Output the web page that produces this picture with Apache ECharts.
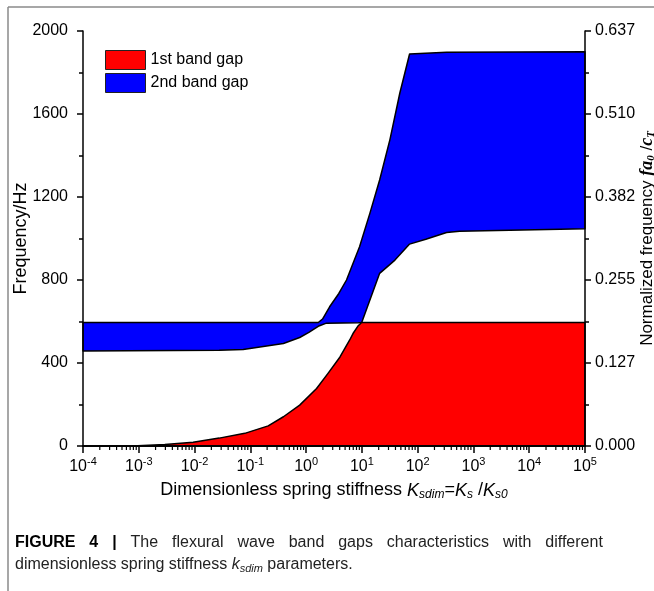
<!DOCTYPE html>
<html><head><meta charset="utf-8">
<script src="https://cdn.jsdelivr.net/npm/echarts@6/dist/echarts.min.js"></script>
<style>html,body{margin:0;padding:0;background:#fff}#c{width:654px;height:591px}</style>
</head><body><div id="c"></div>
<script>
// ---- data ----
const gap1Stiffness = [1e-4, 9.55e-4, 2.93e-3, 9.42e-3, 2.77e-2, 7.96e-2, 0.209, 0.392, 0.767, 1.54, 2.47, 4.05, 6.05, 6.93, 8.49, 9.93, 1e5];
const gap1UpperHz  = [0, 1, 7, 18, 38, 61, 97, 141, 197, 277, 350, 429, 511, 542, 578, 595, 595];

const gap2LowerStiffness = [1e-4, 0.0277, 0.0745, 0.392, 0.767, 1.12, 1.65, 2.31, 8.69, 9.93, 20.8, 39.1, 71.6, 140, 330, 565, 1e5];
const gap2LowerHz        = [458, 461, 465, 494, 523, 548, 577, 592, 594, 595, 832, 896, 973, 996, 1029, 1035, 1047];

const gap2UpperStiffness = [1e-4, 1.65, 1.97, 2.64, 3.86, 5.30, 9.08, 13.9, 20.8, 31.9, 47.8, 71.6, 330, 1e5];
const gap2UpperHz        = [595, 595, 612, 671, 735, 800, 960, 1121, 1282, 1478, 1700, 1889, 1897, 1900];

const freqTickLabels = ['0', '400', '800', '1200', '1600', '2000'];
const normTickLabels = ['0.000', '0.127', '0.255', '0.382', '0.510', '0.637'];
const minorMantissas = [2, 3, 4, 5, 6, 7, 8, 9];
const decadeExponents = [-4, -3, -2, -1, 0, 1, 2, 3, 4];
const seriesNames = ['1st band gap', '2nd band gap'];
const captionLine1Words = ['{b|FIGURE}', '{b|4}', '{b||}', 'The', 'flexural', 'wave', 'band', 'gaps', 'characteristics', 'with', 'different'];

// ---- build ----
const FONT = '"Liberation Sans", Arial, sans-serif';
const zip = (xs, ys) => xs.map((x, i) => [x, ys[i]]);

const gap1Poly = zip(gap1Stiffness, gap1UpperHz)
  .concat([[gap1Stiffness[gap1Stiffness.length - 1], 0], [gap1Stiffness[0], 0]]);
const gap2Poly = zip(gap2LowerStiffness, gap2LowerHz)
  .concat(zip(gap2UpperStiffness, gap2UpperHz).reverse());

const minorTickData = [];
decadeExponents.forEach(e => minorMantissas.forEach(m => minorTickData.push([m * Math.pow(10, e), 0])));

function polygonRenderer(params, api) {
  if (params.dataIndexInside !== 0) return null;
  const pts = [];
  for (let i = 0; i < params.dataInsideLength; i++) {
    pts.push(api.coord([api.value(0, i), api.value(1, i)]));
  }
  return {
    type: 'polygon',
    shape: { points: pts },
    style: { fill: api.visual('color'), stroke: '#000', lineWidth: 1.5, lineJoin: 'round' }
  };
}

function minorTickRenderer(params, api) {
  const p = api.coord([api.value(0), api.value(1)]);
  const y0 = params.coordSys.y + params.coordSys.height;
  return {
    type: 'line',
    shape: { x1: p[0], y1: y0, x2: p[0], y2: y0 + 4 },
    style: { stroke: '#000', lineWidth: 1.2 }
  };
}

const axisLineStyle = { color: '#000', width: 1.5 };
const tickLabelStyle = { fontFamily: FONT, fontSize: 16, color: '#000' };

const line1Text = captionLine1Words.join('{sp| }');

const chart = echarts.init(document.getElementById('c'), null, { renderer: 'canvas' });
chart.setOption({
  animation: false,
  backgroundColor: '#fff',
  grid: { left: 83, right: 69, top: 31, bottom: 145, containLabel: false, outerBoundsMode: 'none' },
  legend: {
    left: 100, top: 45, orient: 'vertical',
    itemWidth: 40, itemHeight: 19, itemGap: 3, icon: 'rect',
    itemStyle: { borderColor: '#222', borderWidth: 1 },
    textStyle: { fontFamily: FONT, fontSize: 16, color: '#000' },
    data: [
      { name: seriesNames[0], itemStyle: { color: '#ff0000' } },
      { name: seriesNames[1], itemStyle: { color: '#0000ff' } }
    ]
  },
  xAxis: [
    {
      type: 'log', logBase: 10, min: 1e-4, max: 1e5, interval: 1, z: 10,
      axisLine: { show: true, lineStyle: axisLineStyle },
      axisTick: { show: true, inside: false, length: 7, lineStyle: { color: '#000', width: 1.5 } },
      minorTick: { show: false },
      splitLine: { show: false },
      axisLabel: {
        margin: 10,
        formatter: v => '{b|10}{s|' + Math.round(Math.log10(v)) + '}',
        rich: {
          b: { fontFamily: FONT, fontSize: 16, color: '#000' },
          s: { fontFamily: FONT, fontSize: 11, color: '#000', padding: [0, 0, 10, 0] }
        }
      },
      name: 'Dimensionless spring stiffness {i|K}{sub|sdim}{n|=}{i|K}{sub|s}{n| /}{i|K}{sub|s0}',
      nameLocation: 'middle', nameGap: 34,
      nameTextStyle: {
        fontFamily: FONT, fontSize: 18, color: '#000',
        rich: {
          i: { fontFamily: FONT, fontSize: 18, fontStyle: 'italic', color: '#000' },
          sub: { fontFamily: FONT, fontSize: 12, fontStyle: 'italic', color: '#000', padding: [9, 0, 0, 0] },
          n: { fontFamily: FONT, fontSize: 18, color: '#000' }
        }
      }
    },
    {
      type: 'log', logBase: 10, min: 1e-4, max: 1e5, position: 'top', z: 10,
      axisLine: { show: true, lineStyle: axisLineStyle },
      axisTick: { show: false }, axisLabel: { show: false }, splitLine: { show: false }
    }
  ],
  yAxis: [
    {
      type: 'value', min: 0, max: 2000, interval: 400, position: 'left', z: 10,
      axisLine: { show: true, lineStyle: axisLineStyle },
      axisTick: { show: true, length: 6, lineStyle: { color: '#000', width: 1.5 } },
      minorTick: { show: true, splitNumber: 2, length: 4, lineStyle: { color: '#000', width: 1.5 } },
      splitLine: { show: false },
      axisLabel: Object.assign({ margin: 15, formatter: v => freqTickLabels[Math.round(v / 400)] }, tickLabelStyle),
      name: 'Frequency/Hz', nameLocation: 'middle', nameGap: 53, nameRotate: 90, nameMoveOverlap: false,
      nameTextStyle: { fontFamily: FONT, fontSize: 18, color: '#000' }
    },
    {
      type: 'value', min: 0, max: 2000, interval: 400, position: 'right', z: 10,
      axisLine: { show: true, lineStyle: axisLineStyle },
      axisTick: { show: true, length: 6, lineStyle: { color: '#000', width: 1.5 } },
      minorTick: { show: true, splitNumber: 2, length: 4, lineStyle: { color: '#000', width: 1.5 } },
      splitLine: { show: false },
      axisLabel: Object.assign({ margin: 10, formatter: v => normTickLabels[Math.round(v / 400)] }, tickLabelStyle),
      name: 'Normalized frequency {bi|fa}{sub|0}{n| /}{bi|c}{sub|T}',
      nameLocation: 'middle', nameGap: 53, nameRotate: 90, nameMoveOverlap: false,
      nameTextStyle: {
        fontFamily: FONT, fontSize: 17, color: '#000',
        rich: {
          bi: { fontFamily: '"Liberation Serif", serif', fontSize: 18, fontStyle: 'italic', fontWeight: 'bold', color: '#000' },
          sub: { fontFamily: '"Liberation Serif", serif', fontSize: 11, fontStyle: 'italic', fontWeight: 'bold', color: '#000', padding: [8, 0, 0, 0] },
          n: { fontFamily: FONT, fontSize: 17, color: '#000' }
        }
      }
    }
  ],
  series: [
    {
      name: seriesNames[1], type: 'custom', renderItem: polygonRenderer,
      itemStyle: { color: '#0000ff' }, data: gap2Poly, z: 2, silent: true
    },
    {
      name: seriesNames[0], type: 'custom', renderItem: polygonRenderer,
      itemStyle: { color: '#ff0000' }, data: gap1Poly, z: 3, silent: true
    },
    {
      name: 'minorTicks', type: 'custom', renderItem: minorTickRenderer, clip: false,
      data: minorTickData, z: 4, silent: true
    }
  ],
  graphic: [
    { type: 'line', shape: { x1: 8, y1: 7, x2: 654, y2: 7 }, style: { stroke: '#8a8a8a', lineWidth: 1.5 } },
    { type: 'line', shape: { x1: 8, y1: 7, x2: 8, y2: 591 }, style: { stroke: '#8a8a8a', lineWidth: 1.5 } },
    {
      type: 'text', left: 15, top: 535,
      style: {
        text: line1Text,
        fontFamily: FONT, fontSize: 16, fill: '#222',
        rich: {
          b: { fontFamily: FONT, fontSize: 16, fontWeight: 'bold', fill: '#000' },
          sp: { fontFamily: FONT, fontSize: 16, width: 13.9 }
        }
      }
    },
    {
      type: 'text', left: 15, top: 557,
      style: {
        text: 'dimensionless spring stiffness {i|k}{sub|sdim} parameters.',
        fontFamily: FONT, fontSize: 16, fill: '#222',
        rich: {
          i: { fontFamily: FONT, fontSize: 16, fontStyle: 'italic', fill: '#222' },
          sub: { fontFamily: FONT, fontSize: 11, fontStyle: 'italic', fill: '#222', padding: [8, 0, 0, 0] }
        }
      }
    }
  ]
});
</script>
</body></html>
